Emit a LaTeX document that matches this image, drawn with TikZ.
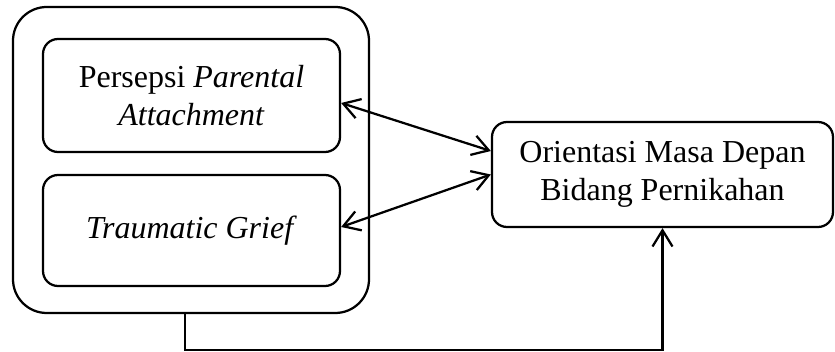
\documentclass[tikz,border=0pt]{standalone}
\usepackage{fontspec}
\setmainfont{Liberation Serif}
\usepackage{tikz}
\usetikzlibrary{arrows.meta}
\usetikzlibrary{positioning}
\tikzstyle{group}=[draw,rectangle,rounded corners=13.5pt,line width=0.9pt]
\tikzstyle{var}=[draw,rectangle,rounded corners=6pt,align=center,line width=0.9pt,font=\fontsize{12.8}{15.2}\selectfont]
\tikzstyle{link}=[line width=0.9pt,{Straight Barb[length=6.5pt,width=8pt]}-{Straight Barb[length=6.5pt,width=8pt]}]
\tikzstyle{flow}=[line width=0.9pt,-{Straight Barb[length=6.5pt,width=8pt]}]

\begin{document}
\begin{tikzpicture}[x=0.4pt,y=-0.4pt]
	\useasboundingbox (0,0) rectangle (835,352);

	\node[group, minimum width=142.4pt, minimum height=122.4pt] (outer) at (191,160) {};

	\node[var, minimum width=118.8pt, minimum height=45.2pt] (persepsi) at (191.5,95.5) 
	{Persepsi \textit{Parental}\\ \textit{Attachment}};
	\node[var, minimum width=118.8pt, minimum height=44.4pt] (grief) at (191.5,230.5) 
	{\textit{Traumatic Grief}};

	\node[var, minimum width=136.4pt, minimum height=42pt] (orientasi) at (662.5,174.5) 
	{Orientasi Masa Depan\\ Bidang Pernikahan};

	\path[draw,link] ([yshift=-3pt]persepsi.east) -- ([yshift=9.4pt]orientasi.west);
	\path[draw,link] ([yshift=1.4pt]grief.east) -- (orientasi.west);

	\path[draw,flow] ([xshift=-2.4pt]outer.south) -- ++(0,36) -| (orientasi.south);
\end{tikzpicture}
\end{document}
